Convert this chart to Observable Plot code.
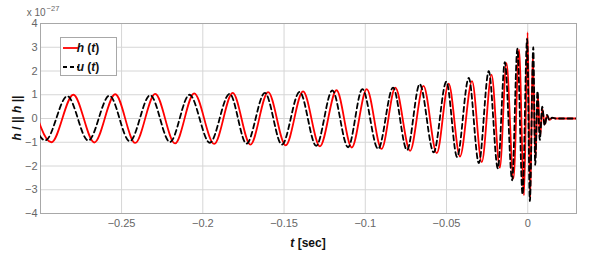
<!DOCTYPE html>
<html>
<head>
<meta charset="utf-8">
<script src="https://cdn.jsdelivr.net/npm/d3@7"></script>
<script src="https://cdn.jsdelivr.net/npm/@observablehq/plot@0.6"></script>
<style>
  html, body { margin: 0; padding: 0; background: #fff; }
  #chart { position: relative; width: 599px; height: 256px; }
</style>
</head>
<body>
<div id="chart"></div>
<script>
// Times (s) of the extrema of h(t) and their values (units of 1e-27)
const hTime = [-0.3059,-0.2932,-0.2797,-0.2668,-0.2539,-0.2416,-0.2293,-0.2171,-0.2053,-0.1930,
  -0.1816,-0.1707,-0.1598,-0.1490,-0.1383,-0.1279,-0.1177,-0.1083,-0.0991,-0.0900,
  -0.0815,-0.0724,-0.0642,-0.0560,-0.0487,-0.0417,-0.0343,-0.0283,-0.0223,-0.0172,
  -0.0131,-0.0088,-0.0054,-0.0023,-0.0001,0.0015,0.0031,0.0047,0.0062,0.0076,
  0.0090,0.0104,0.0119,0.0134,0.0150,0.0171,0.0325];
const hValue = [0.98,-1.00,1.00,-1.01,1.02,-1.03,1.04,-1.05,1.06,-1.07,
  1.08,-1.10,1.11,-1.13,1.14,-1.17,1.19,-1.22,1.24,-1.28,
  1.30,-1.36,1.37,-1.46,1.47,-1.60,1.57,-1.84,1.85,-2.07,
  2.33,-2.52,2.90,-3.23,3.62,-3.35,2.70,-1.70,1.00,-0.75,
  0.40,-0.25,0.12,-0.06,0.03,0,0];
// Times (s) of the extrema of u(t) and their values (units of 1e-27)
const uTime = [-0.3096,-0.2969,-0.2834,-0.2705,-0.2575,-0.2450,-0.2324,-0.2202,-0.2082,-0.1957,
  -0.1835,-0.1731,-0.1618,-0.1513,-0.1404,-0.1302,-0.1203,-0.1106,-0.1018,-0.0921,
  -0.0829,-0.0743,-0.0665,-0.0579,-0.0501,-0.0435,-0.0363,-0.0301,-0.0240,-0.0184,
  -0.0141,-0.0096,-0.0064,-0.0032,-0.0004,0.0013,0.0034,0.0046,0.0060,0.0074,
  0.0089,0.0104,0.0119,0.0134,0.0150,0.0171,0.0325];
const uValue = [0.95,-0.92,0.94,-0.93,0.96,-0.96,0.98,-0.99,1.00,-1.02,
  1.04,-1.06,1.08,-1.10,1.12,-1.15,1.18,-1.21,1.24,-1.28,
  1.30,-1.33,1.45,-1.42,1.55,-1.62,1.71,-1.88,1.99,-2.10,
  2.37,-2.60,2.94,-3.20,3.35,-3.48,3.00,-1.95,1.15,-0.90,
  0.50,-0.30,0.15,-0.08,0.04,0,0];

const xTicks = [-0.25,-0.2,-0.15,-0.1,-0.05,0];
const xTickLabels = ["−0.25","−0.2","−0.15","−0.1","−0.05","0"];
const yTicks = [-4,-3,-2,-1,0,1,2,3,4];
const seriesNames = ["h (t)", "u (t)"];

const hData = hTime.map((t, i) => ({t, v: hValue[i]}));
const uData = uTime.map((t, i) => ({t, v: uValue[i]}));

const W = 599, H = 256, mL = 40, mR = 23, mT = 23, mB = 43;
const ff = "'Liberation Sans', Arial, Helvetica, sans-serif";

const chart = Plot.plot({
  width: W, height: H,
  marginLeft: mL, marginRight: mR, marginTop: mT, marginBottom: mB,
  style: {fontFamily: ff, background: "#fff"},
  x: {domain: [-0.2999, 0.03]},
  y: {domain: [-4, 4]},
  marks: [
    Plot.gridX(xTicks, {stroke: "#d6d6d6", strokeOpacity: 1}),
    Plot.gridY(yTicks, {stroke: "#d6d6d6", strokeOpacity: 1}),
    Plot.frame({stroke: "#a8a8a8"}),
    Plot.axisX(xTicks, {tickSize: 0, tickPadding: 6, fontSize: 11, fill: "#666", label: null,
      tickFormat: d => xTickLabels[xTicks.indexOf(d)]}),
    Plot.axisY(yTicks, {tickSize: 0, tickPadding: 3, fontSize: 11, fill: "#666", label: null}),
    Plot.line(hData, {x: "t", y: "v", stroke: "#ff0000", strokeWidth: 1.8, curve: "monotone-x", clip: true}),
    Plot.line(uData, {x: "t", y: "v", stroke: "#000", strokeWidth: 1.8, strokeDasharray: "5,3.5", curve: "monotone-x", clip: true})
  ]
});

document.getElementById("chart").appendChild(chart);

const svg = d3.select(chart);

// exponent label
const ex = svg.append("text").attr("x", mL + 3).attr("y", 15.5).attr("font-size", 10)
  .attr("fill", "#666").attr("font-family", ff);
ex.append("tspan").text("x 10");
ex.append("tspan").attr("font-size", 7.5).attr("dy", -5).attr("dx", 1).text("−27");

// y label
const yl = svg.append("text")
  .attr("transform", `translate(21,${(mT + H - mB) / 2}) rotate(-90)`)
  .attr("text-anchor", "middle").attr("font-size", 12).attr("font-weight", "bold")
  .attr("font-family", ff).attr("fill", "#111");
yl.append("tspan").attr("font-style", "italic").text("h");
yl.append("tspan").text(" / || ");
yl.append("tspan").attr("font-style", "italic").text("h");
yl.append("tspan").text(" ||");

// x label
const xl = svg.append("text")
  .attr("x", (mL + W - mR) / 2).attr("y", 247)
  .attr("text-anchor", "middle").attr("font-size", 12).attr("font-weight", "bold")
  .attr("font-family", ff).attr("fill", "#111");
xl.append("tspan").attr("font-style", "italic").text("t");
xl.append("tspan").text(" [sec]");

// legend
const lg = svg.append("g").attr("font-family", ff);
lg.append("rect").attr("x", 60.5).attr("y", 37.5).attr("width", 56).attr("height", 38)
  .attr("fill", "#fff").attr("stroke", "#a8a8a8");
const entries = [
  {name: seriesNames[0], stroke: "#ff0000", dash: null, y: 48},
  {name: seriesNames[1], stroke: "#000", dash: "4,3", y: 67}
];
entries.forEach(e => {
  lg.append("line").attr("x1", 63).attr("x2", 79).attr("y1", e.y).attr("y2", e.y)
    .attr("stroke", e.stroke).attr("stroke-width", 1.8).attr("stroke-dasharray", e.dash);
  const tx = lg.append("text").attr("x", 88).attr("y", e.y + 4).attr("font-size", 12)
    .attr("font-weight", "bold").attr("fill", "#111");
  const [sym, rest] = e.name.split(" ");
  tx.append("tspan").attr("font-style", "italic").text(sym);
  tx.append("tspan").text(" (");
  tx.append("tspan").attr("font-style", "italic").text("t");
  tx.append("tspan").text(")");
});
</script>
</body>
</html>
